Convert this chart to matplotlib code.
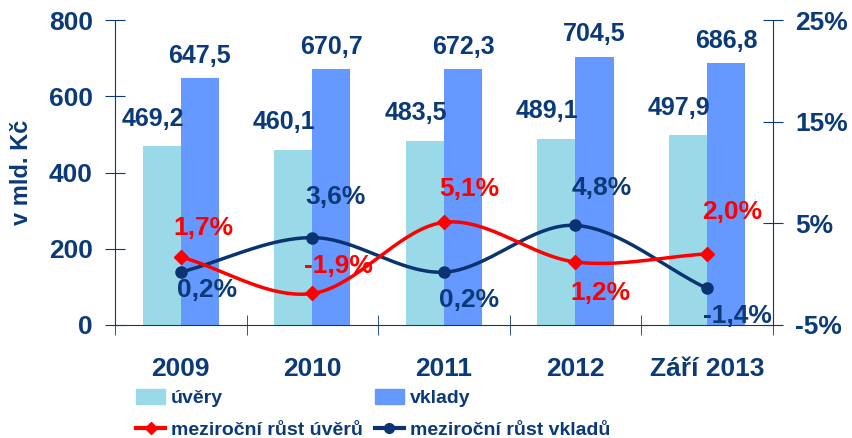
import numpy as np
import matplotlib.pyplot as plt
from matplotlib.lines import Line2D
from matplotlib.patches import Patch

years = ["2009", "2010", "2011", "2012", "Září 2013"]
uvery = [469.2, 460.1, 483.5, 489.1, 497.9]
vklady = [647.5, 670.7, 672.3, 704.5, 686.8]
rust_uvery = [1.7, -1.9, 5.1, 1.2, 2.0]
rust_vklady = [0.2, 3.6, 0.2, 4.8, -1.4]

NAVY = "#0B3A78"
LIGHT = "#99D9E8"
BLUE = "#6699FF"
RED = "#FF0000"
LINE_NAVY = "#0A3372"

plt.rcParams["font.family"] = ["Liberation Sans", "DejaVu Sans"]
plt.rcParams["font.weight"] = "bold"


def smooth(xs, ys, n=40):
    # Catmull-Rom style smoothing, like Excel's smoothed lines
    xs = np.asarray(xs, float)
    ys = np.asarray(ys, float)
    px = np.concatenate([[2 * xs[0] - xs[1]], xs, [2 * xs[-1] - xs[-2]]])
    py = np.concatenate([[2 * ys[0] - ys[1]], ys, [2 * ys[-1] - ys[-2]]])
    out_x, out_y = [], []
    for i in range(1, len(px) - 2):
        t = np.linspace(0, 1, n)
        for arr, res in ((px, out_x), (py, out_y)):
            p0, p1, p2, p3 = arr[i - 1], arr[i], arr[i + 1], arr[i + 2]
            res.extend(0.5 * ((2 * p1) + (-p0 + p2) * t
                              + (2 * p0 - 5 * p1 + 4 * p2 - p3) * t ** 2
                              + (-p0 + 3 * p1 - 3 * p2 + p3) * t ** 3))
    return np.array(out_x), np.array(out_y)


def fmt(v, pct=False):
    s = f"{v:.1f}".replace(".", ",")
    return s + "%" if pct else s


fig = plt.figure(figsize=(8.52, 4.38), dpi=100)
ax = fig.add_axes([0.135, 0.258, 0.772, 0.696])
x = np.arange(len(years))
w = 0.29

ax.bar(x - w / 2, uvery, w, color=LIGHT, zorder=2)
ax.bar(x + w / 2, vklady, w, color=BLUE, zorder=2)

for i in range(len(years)):
    ax.text(x[i] - w / 2 - 0.07, uvery[i] + 72, fmt(uvery[i]),
            ha="center", va="center", color=NAVY, fontsize=18, fontweight="bold")
    ax.text(x[i] + w / 2, vklady[i] + 58, fmt(vklady[i]),
            ha="center", va="center", color=NAVY, fontsize=18, fontweight="bold")

ax.set_xlim(-0.5, len(years) - 0.5)
ax.set_ylim(0, 800)
ax.set_yticks([0, 200, 400, 600, 800])
ax.set_xticks(x)
ax.set_xticklabels(years)
ax.set_xticks(np.arange(-0.5, len(years), 1.0), minor=True)
ax.tick_params(axis="x", which="major", length=0, pad=23, labelsize=19, labelcolor=NAVY)
ax.tick_params(axis="x", which="minor", length=14, direction="inout", color=NAVY)
ax.tick_params(axis="y", length=14, direction="inout", color=NAVY, labelsize=19,
               labelcolor=NAVY, pad=9)
ax.set_ylabel("v mld. Kč", fontsize=17, color=NAVY, fontweight="bold")
ax.yaxis.set_label_coords(-0.125, 0.5)
for s in ["top", "right"]:
    ax.spines[s].set_visible(False)
for s in ["left", "bottom"]:
    ax.spines[s].set_color(NAVY)
for lbl in ax.get_xticklabels() + ax.get_yticklabels():
    lbl.set_fontweight("bold")

ax2 = ax.twinx()
ax2.set_ylim(-5, 25)
ax2.set_yticks([-5, 5, 15, 25])
ax2.set_yticklabels(["-5%", "5%", "15%", "25%"])
ax2.tick_params(axis="y", length=14, direction="inout", color=NAVY, labelsize=19,
                labelcolor=NAVY, pad=9)
for lbl in ax2.get_yticklabels():
    lbl.set_fontweight("bold")
for s in ["top", "left", "bottom"]:
    ax2.spines[s].set_visible(False)
ax2.spines["right"].set_color(NAVY)

sx, sy = smooth(x, rust_vklady)
ax2.plot(sx, sy, color=LINE_NAVY, lw=2.5, zorder=3)
ax2.plot(x, rust_vklady, "o", color=LINE_NAVY, ms=8, zorder=4)
sx, sy = smooth(x, rust_uvery)
ax2.plot(sx, sy, color=RED, lw=2.5, zorder=3)
ax2.plot(x, rust_uvery, "D", color=RED, ms=7, zorder=4)

# label offsets in points (x, y)
red_off = [(16, 21), (19, 20), (18, 24), (18, -22), (18, 30)]
navy_off = [(19, -13), (17, 29), (18, -20), (19, 27), (22, -20)]
for i in range(len(years)):
    ax2.annotate(fmt(rust_uvery[i], True), (x[i], rust_uvery[i]), xytext=red_off[i],
                 textcoords="offset points", ha="center", va="center",
                 color=RED, fontsize=19, fontweight="bold", zorder=5)
    ax2.annotate(fmt(rust_vklady[i], True), (x[i], rust_vklady[i]), xytext=navy_off[i],
                 textcoords="offset points", ha="center", va="center",
                 color=NAVY, fontsize=19, fontweight="bold", zorder=5)

handles = [
    Patch(color=LIGHT, label="úvěry"),
    Line2D([], [], color=RED, lw=3, marker="D", ms=6, label="meziroční růst úvěrů"),
    Patch(color=BLUE, label="vklady"),
    Line2D([], [], color=LINE_NAVY, lw=3, marker="o", ms=7, label="meziroční růst vkladů"),
]
leg = fig.legend(handles=handles, loc="upper left", bbox_to_anchor=(0.1596, 0.112),
                 ncol=2, frameon=False, fontsize=14, columnspacing=0.6,
                 handlelength=1.5, handleheight=0.8, handletextpad=0.3,
                 labelspacing=0.7, borderpad=0, borderaxespad=0)
for t in leg.get_texts():
    t.set_color(NAVY)
    t.set_fontweight("bold")

fig.savefig("out.png", dpi=100)
